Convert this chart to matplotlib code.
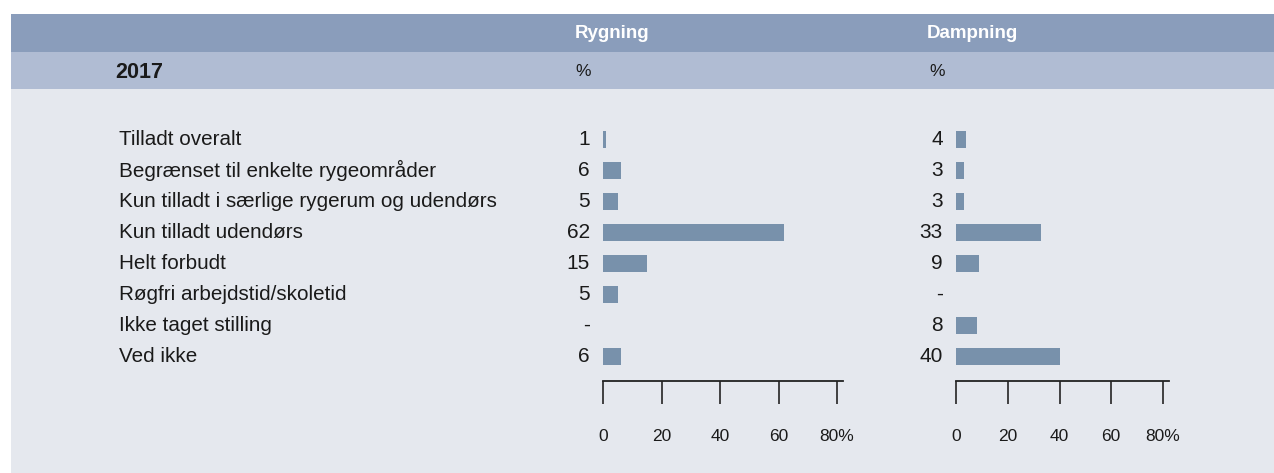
import matplotlib
matplotlib.use("Agg")
import matplotlib.pyplot as plt
from matplotlib.patches import Rectangle
from matplotlib import font_manager

# Data
kategorier = [
    "Tilladt overalt",
    "Begrænset til enkelte rygeområder",
    "Kun tilladt i særlige rygerum og udendørs",
    "Kun tilladt udendørs",
    "Helt forbudt",
    "Røgfri arbejdstid/skoletid",
    "Ikke taget stilling",
    "Ved ikke",
]
rygning = [1, 6, 5, 62, 15, 5, None, 6]
dampning = [4, 3, 3, 33, 9, None, 8, 40]
tick_vals = [0, 20, 40, 60, 80]
tick_labels = ["0", "20", "40", "60", "80%"]
aar = "2017"

W, H = 1274, 473
fig = plt.figure(figsize=(W / 100, H / 100), dpi=100)
fig.patch.set_facecolor("white")

names = {f.name for f in font_manager.fontManager.ttflist}
narrow = "Liberation Sans Narrow" if "Liberation Sans Narrow" in names else "Liberation Sans"

# baggrund i pixelkoordinater
bg = fig.add_axes([0, 0, 1, 1])
bg.set_xlim(0, W)
bg.set_ylim(H, 0)
bg.axis("off")
bg.add_patch(Rectangle((11, 14), W - 11, 38, color="#8a9dbb", lw=0))
bg.add_patch(Rectangle((11, 52), W - 11, 37, color="#b0bcd3", lw=0))
bg.add_patch(Rectangle((11, 89), W - 11, H - 89, color="#e5e8ee", lw=0))

bg.text(575, 34, "Rygning", color="white", fontsize=13.5, fontweight="bold",
        family="Liberation Sans", ha="left", va="center")
bg.text(927, 34, "Dampning", color="white", fontsize=13.5, fontweight="bold",
        family="Liberation Sans", ha="left", va="center")
bg.text(115, 72, aar, color="#1a1a1a", fontsize=15.5, fontweight="bold",
        family="Liberation Sans", ha="left", va="center")
bg.text(575, 72, "%", color="#1a1a1a", fontsize=12.5, family="Liberation Sans",
        ha="left", va="center")
bg.text(929, 72, "%", color="#1a1a1a", fontsize=12.5, family="Liberation Sans",
        ha="left", va="center")


def panel(x0, px_per_unit, xmax, values, with_labels):
    top, bottom = 123.5, 381
    width = xmax * px_per_unit
    ax = fig.add_axes([x0 / W, (H - bottom) / H, width / W, (bottom - top) / H])
    ax.set_facecolor("none")
    n = len(values)
    ax.set_xlim(0, xmax)
    ax.set_ylim(n - 1 + 25 / 31, -0.5)
    for i, v in enumerate(values):
        txt = "-" if v is None else str(v)
        if v is not None:
            ax.barh(i, v, height=17 / 31, color="#7891ab", left=0)
        ax.annotate(txt, xy=(0, i), xytext=(-9.5, 0), textcoords="offset points",
                    ha="right", va="center", fontsize=15, family="Liberation Sans",
                    color="#1a1a1a")
        if with_labels:
            ax.text((119 - x0) / width, i, kategorier[i], transform=ax.get_yaxis_transform(),
                    ha="left", va="center", fontsize=14.9, family="Liberation Sans",
                    color="#1a1a1a")
    for s in ["top", "left", "right"]:
        ax.spines[s].set_visible(False)
    ax.spines["bottom"].set_color("#222222")
    ax.spines["bottom"].set_linewidth(1.3)
    ax.set_yticks([])
    ax.set_xticks(tick_vals)
    ax.set_xticklabels(tick_labels, family=narrow, fontsize=12.5, color="#1a1a1a")
    ax.tick_params(axis="x", direction="out", length=16.5, width=1.3, color="#333333", pad=18)
    return ax


panel(603, 2.925, 82.05, rygning, True)
panel(956, 2.5875, 82.4, dampning, False)

fig.savefig("out.png", dpi=100)
